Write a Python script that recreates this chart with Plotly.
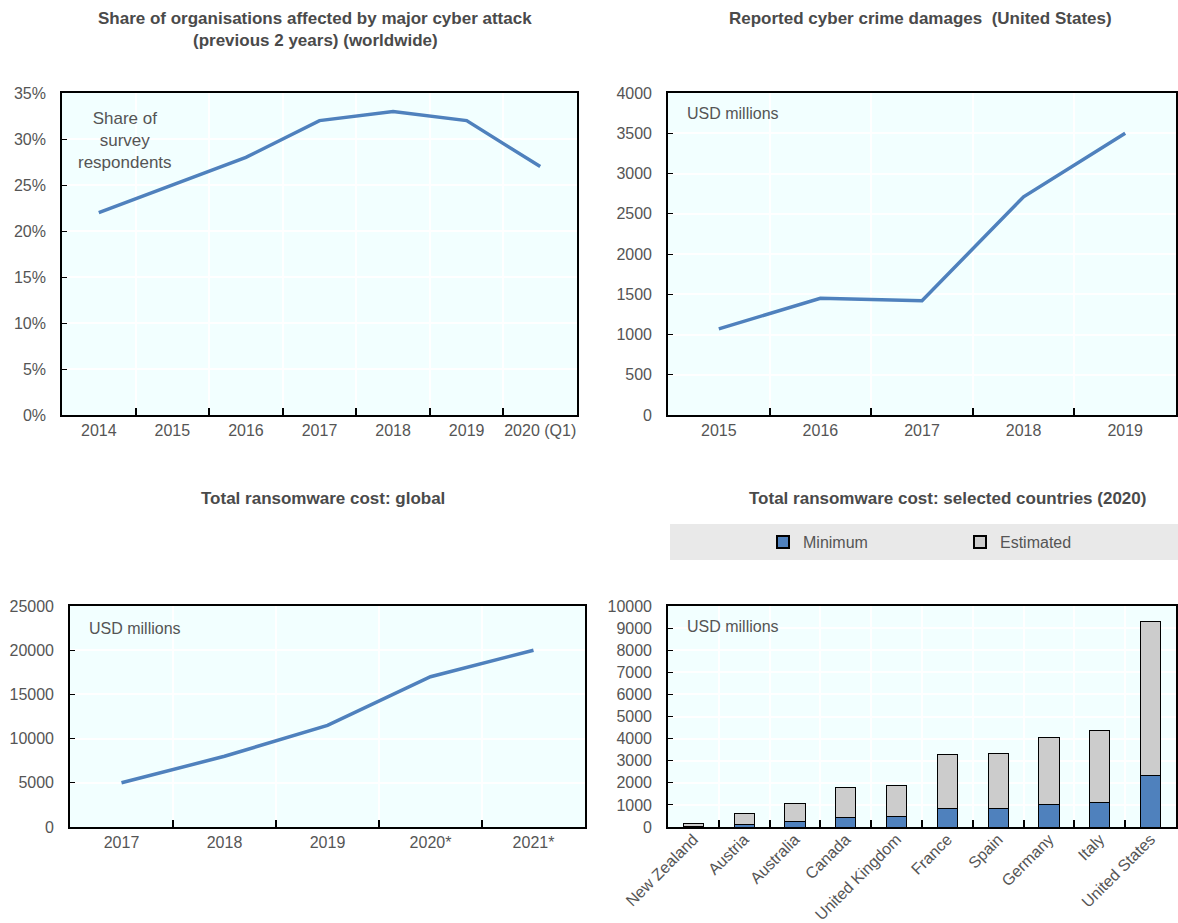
import plotly.graph_objects as go

# ---------------- data ----------------
share_years = ["2014", "2015", "2016", "2017", "2018", "2019", "2020 (Q1)"]
share_values = [22, 25, 28, 32, 33, 32, 27]

damage_years = ["2015", "2016", "2017", "2018", "2019"]
damage_values = [1070, 1450, 1420, 2710, 3500]

ransom_years = ["2017", "2018", "2019", "2020*", "2021*"]
ransom_values = [5000, 8000, 11500, 17000, 20000]

countries = ["New Zealand", "Austria", "Australia", "Canada", "United Kingdom",
             "France", "Spain", "Germany", "Italy", "United States"]
minimum_values = [25, 130, 230, 430, 480, 820, 840, 1000, 1090, 2310]
estimated_values = [130, 490, 850, 1350, 1410, 2480, 2500, 3030, 3270, 6990]

# ---------------- style ----------------
W, H = 1178, 923
BLUE = "#4F81BD"
GREY = "#CCCCCC"
BG = "#F2FFFF"
TXT = "#555555"
TITLE = "#4A4A4A"
FONT = "Liberation Sans"


def fx(a):
    return a / W


def fy(a):
    return 1 - a / H


def px_x(a, b):
    return [fx(a), fx(b)]


def px_y(top, bottom):
    return [fy(bottom), fy(top)]


fig = go.Figure()

fig.add_trace(go.Scatter(x=share_years, y=share_values, mode="lines",
                         line=dict(color=BLUE, width=3.5), xaxis="x", yaxis="y",
                         showlegend=False))
fig.add_trace(go.Scatter(x=damage_years, y=damage_values, mode="lines",
                         line=dict(color=BLUE, width=3.5), xaxis="x2", yaxis="y2",
                         showlegend=False))
fig.add_trace(go.Scatter(x=ransom_years, y=ransom_values, mode="lines",
                         line=dict(color=BLUE, width=3.5), xaxis="x3", yaxis="y3",
                         showlegend=False))
fig.add_trace(go.Bar(x=countries, y=minimum_values, name="Minimum",
                     marker=dict(color=BLUE, line=dict(color="#000000", width=1)),
                     xaxis="x4", yaxis="y4"))
fig.add_trace(go.Bar(x=countries, y=estimated_values, name="Estimated",
                     marker=dict(color=GREY, line=dict(color="#000000", width=1)),
                     xaxis="x4", yaxis="y4"))

xcommon = dict(type="category", showline=True, linecolor="#000000", linewidth=1.6,
               mirror=True, ticks="inside", ticklen=7, tickwidth=1.5, tickcolor="#000000",
               tickson="boundaries", showgrid=True, gridcolor="#FFFFFF", gridwidth=1.5,
               tickfont=dict(family=FONT, size=16, color=TXT), zeroline=False,
               fixedrange=True, automargin=False, tickangle=0)
ycommon = dict(showline=True, linecolor="#000000", linewidth=1.6, mirror=True,
               ticks="inside", ticklen=5, tickwidth=1, tickcolor="#000000",
               showgrid=True, gridcolor="#FFFFFF", gridwidth=1.5, zeroline=False,
               tickfont=dict(family=FONT, size=16, color=TXT), ticklabelstandoff=11,
               tickformat="d", fixedrange=True, automargin=False)

fig.update_layout(
    template="none",
    width=W, height=H,
    margin=dict(l=0, r=0, t=0, b=0, autoexpand=False),
    paper_bgcolor="#FFFFFF",
    plot_bgcolor=BG,
    barmode="stack",
    bargap=0.6,
    font=dict(family=FONT, color=TXT),
    xaxis=dict(xcommon, domain=px_x(62, 577), anchor="y",
               range=[-0.5, len(share_years) - 0.5]),
    yaxis=dict(ycommon, domain=px_y(93, 415), anchor="x", range=[0, 35], dtick=5,
               ticksuffix="%"),
    xaxis2=dict(xcommon, domain=px_x(668, 1176), anchor="y2",
                range=[-0.5, len(damage_years) - 0.5]),
    yaxis2=dict(ycommon, domain=px_y(93, 415), anchor="x2", range=[0, 4000], dtick=500),
    xaxis3=dict(xcommon, domain=px_x(70, 585), anchor="y3",
                range=[-0.5, len(ransom_years) - 0.5]),
    yaxis3=dict(ycommon, domain=px_y(606, 827), anchor="x3", range=[0, 25000], dtick=5000),
    xaxis4=dict(xcommon, domain=px_x(668, 1176), anchor="y4", tickangle=-45,
                ticklabelstandoff=-5, range=[-0.5, len(countries) - 0.5]),
    yaxis4=dict(ycommon, domain=px_y(606, 827), anchor="x4", range=[0, 10000], dtick=1000),
    legend=dict(orientation="h", x=fx(763), xanchor="left", y=fy(542),
                yanchor="middle", bgcolor="rgba(0,0,0,0)",
                font=dict(family=FONT, size=16, color=TXT),
                entrywidth=152, entrywidthmode="pixels", traceorder="normal",
                itemsizing="constant"),
    shapes=[dict(type="rect", xref="paper", yref="paper",
                 x0=fx(670), x1=1.0, y0=fy(560), y1=fy(524),
                 fillcolor="#E9E9E9", line=dict(width=0), layer="below")],
)

tfont = dict(family=FONT, size=17, color=TITLE)
titles = [
    ("<b>Share of organisations affected by major cyber attack</b>", 315, 18),
    ("<b>(previous 2 years) (worldwide)</b>", 315, 41),
    ("<b>Reported cyber crime damages  (United States)</b>", 920, 18),
    ("<b>Total ransomware cost: global</b>", 323, 498),
    ("<b>Total ransomware cost: selected countries (2020)</b>", 947, 498),
]
for text, cx, cy in titles:
    fig.add_annotation(text=text, xref="paper", yref="paper", x=fx(cx), y=fy(cy),
                       xanchor="center", yanchor="middle", showarrow=False, font=tfont)

lfont = dict(family=FONT, size=16, color=TXT)
fig.add_annotation(text="Share of<br>survey<br>respondents", xref="x domain", yref="y domain",
                   x=0.122, y=0.854, xanchor="center", yanchor="middle", showarrow=False,
                   font=dict(family=FONT, size=17, color=TXT))
for xr, yr, yy in [("x2 domain", "y2 domain", 0.935), ("x3 domain", "y3 domain", 0.896),
                   ("x4 domain", "y4 domain", 0.909)]:
    fig.add_annotation(text="USD millions", xref=xr, yref=yr, x=0.033, y=yy,
                       xanchor="left", yanchor="middle", showarrow=False, font=lfont)

# remove the browser's default page margin so the figure fills the window exactly
fig.write_html(
    "out.html",
    config={"displayModeBar": False, "staticPlot": False},
    post_script="document.body.style.margin='0';"
                "document.documentElement.style.overflow='hidden';",
)
